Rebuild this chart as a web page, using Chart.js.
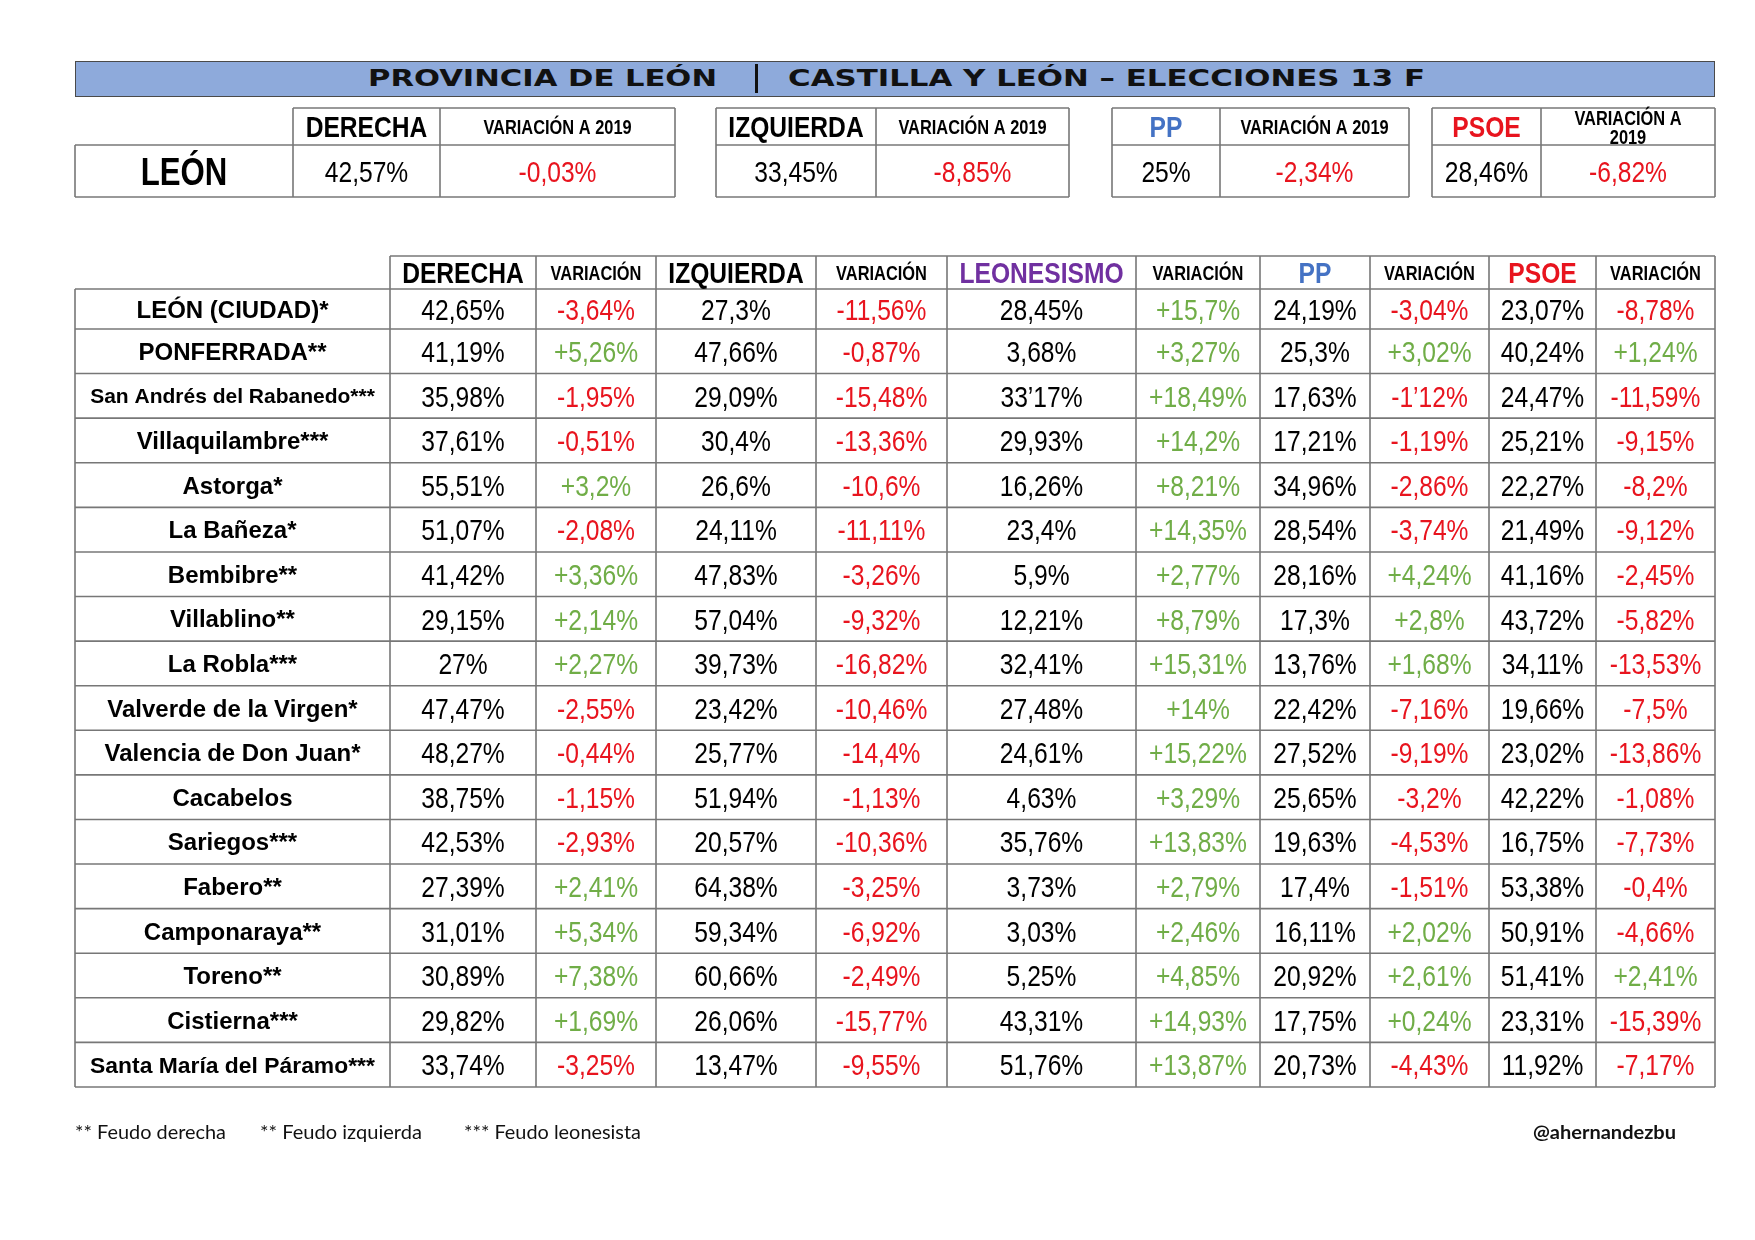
<!DOCTYPE html>
<html lang="es">
<head>
<meta charset="utf-8">
<title>Provincia de León – Castilla y León, Elecciones 13 F</title>
<script src="https://cdn.jsdelivr.net/npm/chart.js@4.4.1/dist/chart.umd.min.js"></script>
<style>
  html, body { margin: 0; padding: 0; background: #fff; }
  body { width: 1755px; height: 1240px; position: relative; overflow: hidden; }
  canvas { position: absolute; left: 0; top: 0; }
  .titulo {
    position: absolute; left: 75px; top: 61px; width: 1640px; height: 36px;
    box-sizing: border-box; background: #8eaadb; border: 1.5px solid #4a4a4a; z-index: 3;
  }
  .titulo span, .nota {
    position: absolute; white-space: nowrap; transform-origin: left center; color: #111;
  }
  .titulo span { top: 0; line-height: 33px; font-family: "DejaVu Sans", sans-serif; font-weight: bold; font-size: 23px; }
  .titulo .barra { left: 679px; top: 2px; width: 3px; height: 29px; background: #111; }
  .nota { font-family: Lato, "Open Sans", sans-serif; font-size: 19px; line-height: 24px; top: 1120px; z-index: 3; }
</style>
</head>
<body>
<div class="titulo">
  <span data-w="349" style="left:292px">PROVINCIA DE LEÓN</span>
  <span class="barra"></span>
  <span data-w="637" style="left:712px">CASTILLA Y LEÓN – ELECCIONES 13 F</span>
</div>
<canvas id="tabla" width="1755" height="1240"></canvas>
<canvas id="resumen" width="1755" height="240"></canvas>
<span class="nota" data-w="151" style="left:75px">** Feudo derecha</span>
<span class="nota" data-w="162" style="left:260px">** Feudo izquierda</span>
<span class="nota" data-w="177" style="left:464px">*** Feudo leonesista</span>
<span class="nota" data-w="143" style="left:1533px;font-weight:bold">@ahernandezbu</span>

<script>
// datos provincia (resumen)
const bloquesResumen = ['DERECHA', 'IZQUIERDA', 'PP', 'PSOE'];
const resumenVoto = [42.57, 33.45, 25, 28.46];
const resumenVariacion = [-0.03, -8.85, -2.34, -6.82];

// datos por municipio
const municipios = ['LEÓN (CIUDAD)*', 'PONFERRADA**', 'San Andrés del Rabanedo***', 'Villaquilambre***',
  'Astorga*', 'La Bañeza*', 'Bembibre**', 'Villablino**', 'La Robla***', 'Valverde de la Virgen*',
  'Valencia de Don Juan*', 'Cacabelos', 'Sariegos***', 'Fabero**', 'Camponaraya**', 'Toreno**',
  'Cistierna***', 'Santa María del Páramo***'];
const cabeceras = ['DERECHA', 'VARIACIÓN', 'IZQUIERDA', 'VARIACIÓN', 'LEONESISMO', 'VARIACIÓN', 'PP', 'VARIACIÓN', 'PSOE', 'VARIACIÓN'];

const derecha = [42.65, 41.19, 35.98, 37.61, 55.51, 51.07, 41.42, 29.15, 27, 47.47, 48.27, 38.75, 42.53, 27.39, 31.01, 30.89, 29.82, 33.74];
const varDerecha = [-3.64, 5.26, -1.95, -0.51, 3.2, -2.08, 3.36, 2.14, 2.27, -2.55, -0.44, -1.15, -2.93, 2.41, 5.34, 7.38, 1.69, -3.25];
const izquierda = [27.3, 47.66, 29.09, 30.4, 26.6, 24.11, 47.83, 57.04, 39.73, 23.42, 25.77, 51.94, 20.57, 64.38, 59.34, 60.66, 26.06, 13.47];
const varIzquierda = [-11.56, -0.87, -15.48, -13.36, -10.6, -11.11, -3.26, -9.32, -16.82, -10.46, -14.4, -1.13, -10.36, -3.25, -6.92, -2.49, -15.77, -9.55];
const leonesismo = [28.45, 3.68, 33.17, 29.93, 16.26, 23.4, 5.9, 12.21, 32.41, 27.48, 24.61, 4.63, 35.76, 3.73, 3.03, 5.25, 43.31, 51.76];
const varLeonesismo = [15.7, 3.27, 18.49, 14.2, 8.21, 14.35, 2.77, 8.79, 15.31, 14, 15.22, 3.29, 13.83, 2.79, 2.46, 4.85, 14.93, 13.87];
const pp = [24.19, 25.3, 17.63, 17.21, 34.96, 28.54, 28.16, 17.3, 13.76, 22.42, 27.52, 25.65, 19.63, 17.4, 16.11, 20.92, 17.75, 20.73];
const varPP = [-3.04, 3.02, -1.12, -1.19, -2.86, -3.74, 4.24, 2.8, 1.68, -7.16, -9.19, -3.2, -4.53, -1.51, 2.02, 2.61, 0.24, -4.43];
const psoe = [23.07, 40.24, 24.47, 25.21, 22.27, 21.49, 41.16, 43.72, 34.11, 19.66, 23.02, 42.22, 16.75, 53.38, 50.91, 51.41, 23.31, 11.92];
const varPSOE = [-8.78, 1.24, -11.59, -9.15, -8.2, -9.12, -2.45, -5.82, -13.53, -7.5, -13.86, -1.08, -7.73, -0.4, -4.66, 2.41, -15.39, -7.17];

// en el original dos celdas llevan apóstrofo en vez de coma: [fila, serie]
const celdasApostrofe = [[2, 4], [2, 7]];

const series = [derecha, varDerecha, izquierda, varIzquierda, leonesismo, varLeonesismo, pp, varPP, psoe, varPSOE];

// colores y maqueta
const rojo = '#e8141e', verde = '#70ad47', morado = '#7030a0', azul = '#4472c4', colorBorde = '#777';
const colorCabecera = { LEONESISMO: morado, PP: azul, PSOE: rojo };
const fuente = '"Liberation Sans", Arial, sans-serif';

const anchosColumna = [315, 146, 120, 160, 131, 189, 124, 110, 119, 107, 119];
const altosFila = [33, 40].concat(municipios.slice(1).map(() => 44.6));

function acumular(arr) {
  const out = [0];
  arr.forEach(v => out.push(out[out.length - 1] + v));
  return out;
}
const bordesX = acumular(anchosColumna);
const bordesY = acumular(altosFila);
const centro = (b, i) => (b[i] + b[i + 1]) / 2;

function formato(v, conSigno, apostrofe) {
  let s = String(Math.abs(v)).replace('.', apostrofe ? '’' : ',');
  if (conSigno) s = (v > 0 ? '+' : '-') + s;
  else if (v < 0) s = '-' + s;
  return s + '%';
}

function linea(ctx, x1, y1, x2, y2) {
  ctx.beginPath();
  ctx.moveTo(x1, y1);
  ctx.lineTo(x2, y2);
  ctx.stroke();
}

// texto centrado; "estrecho" imita Arial Narrow
function texto(ctx, t, cx, cy, size, bold, color, estrecho, maxW) {
  ctx.save();
  ctx.font = (bold ? 'bold ' : '') + size + 'px ' + fuente;
  if (maxW) {
    const w = ctx.measureText(t).width * estrecho;
    if (w > maxW) {
      size = size * maxW / w;
      ctx.font = (bold ? 'bold ' : '') + size + 'px ' + fuente;
    }
  }
  ctx.fillStyle = color;
  ctx.textAlign = 'center';
  ctx.textBaseline = 'alphabetic';
  ctx.translate(cx, cy + size * 0.716 / 2);
  ctx.scale(estrecho, 1);
  ctx.fillText(t, 0, 0);
  ctx.restore();
}

const tablaPlugin = {
  id: 'tablaMunicipios',
  afterDatasetsDraw(chart) {
    const { ctx, scales: { x, y } } = chart;
    const px = v => x.getPixelForValue(v);
    const py = v => y.getPixelForValue(v);
    const ultimo = bordesY[bordesY.length - 1];

    ctx.save();
    ctx.strokeStyle = colorBorde;
    ctx.lineWidth = 1.6;
    bordesY.forEach((v, i) => linea(ctx, px(i === 0 ? bordesX[1] : 0), py(v), px(bordesX[bordesX.length - 1]), py(v)));
    bordesX.forEach((v, j) => linea(ctx, px(v), py(j === 0 ? bordesY[1] : 0), px(v), py(ultimo)));
    ctx.restore();

    // cabeceras
    cabeceras.forEach((t, j) => {
      const grande = t !== 'VARIACIÓN';
      texto(ctx, t, px(centro(bordesX, j + 1)), py(centro(bordesY, 0)), grande ? 30 : 20, true,
        colorCabecera[t] || '#000', 0.82);
    });

    // municipios
    municipios.forEach((m, i) => {
      texto(ctx, m, px(centro(bordesX, 0)), py(centro(bordesY, i + 1)), 24, true, '#000', 1, anchosColumna[0] - 30);
    });

    // valores: posición de cada punto calculada por Chart.js
    chart.data.datasets.forEach((ds, k) => {
      const meta = chart.getDatasetMeta(k);
      const esVariacion = k % 2 === 1;
      meta.data.forEach((el, i) => {
        const v = series[k][i];
        const apos = celdasApostrofe.some(c => c[0] === i && c[1] === k);
        const color = esVariacion ? (v > 0 ? verde : rojo) : '#000';
        texto(ctx, formato(v, esVariacion, apos), el.x, el.y, 30, false, color, 0.82);
      });
    });
  }
};

new Chart(document.getElementById('tabla'), {
  type: 'scatter',
  data: {
    datasets: series.map((s, k) => ({
      label: cabeceras[k],
      data: s.map((v, i) => ({ x: centro(bordesX, k + 1), y: centro(bordesY, i + 1) })),
      pointRadius: 0
    }))
  },
  options: {
    responsive: false,
    animation: false,
    layout: { padding: { left: 75, top: 256, right: 40, bottom: 153 } },
    scales: {
      x: { type: 'linear', display: false, min: 0, max: bordesX[bordesX.length - 1] },
      y: { type: 'linear', display: false, min: 0, max: bordesY[bordesY.length - 1], reverse: true }
    },
    plugins: { legend: { display: false }, tooltip: { enabled: false } }
  },
  plugins: [tablaPlugin]
});

// resumen provincial
const bordesBloque = [[218, 365, 600], [641, 801, 994], [1037, 1145, 1334], [1357, 1466, 1640]];
const bordesResumenY = [0, 37, 89];

const resumenPlugin = {
  id: 'resumenProvincia',
  afterDatasetsDraw(chart) {
    const { ctx, scales: { x, y } } = chart;
    const px = v => x.getPixelForValue(v);
    const py = v => y.getPixelForValue(v);

    ctx.save();
    ctx.strokeStyle = colorBorde;
    ctx.lineWidth = 1.6;
    bordesBloque.forEach(b => {
      bordesResumenY.forEach(v => linea(ctx, px(b[0]), py(v), px(b[2]), py(v)));
      b.forEach(v => linea(ctx, px(v), py(0), px(v), py(89)));
    });
    // celda LEÓN
    linea(ctx, px(0), py(37), px(218), py(37));
    linea(ctx, px(0), py(89), px(218), py(89));
    linea(ctx, px(0), py(37), px(0), py(89));
    ctx.restore();

    texto(ctx, 'LEÓN', px(109), py(63), 38, true, '#000', 0.82);

    bloquesResumen.forEach((t, j) => {
      const b = bordesBloque[j];
      texto(ctx, t, px((b[0] + b[1]) / 2), py(18.5), 30, true, colorCabecera[t] || '#000', 0.82);
      const cab = 'VARIACIÓN A 2019';
      ctx.font = 'bold 20px ' + fuente;
      const cx = px((b[1] + b[2]) / 2);
      if (ctx.measureText(cab).width * 0.82 > (b[2] - b[1]) - 30) {
        texto(ctx, 'VARIACIÓN A', cx, py(18.5) - 9, 20, true, '#000', 0.82);
        texto(ctx, '2019', cx, py(18.5) + 10, 20, true, '#000', 0.82);
      } else {
        texto(ctx, cab, cx, py(18.5), 20, true, '#000', 0.82);
      }
    });

    const voto = chart.getDatasetMeta(0).data;
    const vari = chart.getDatasetMeta(1).data;
    voto.forEach((el, j) => texto(ctx, formato(resumenVoto[j], false), el.x, el.y, 30, false, '#000', 0.82));
    vari.forEach((el, j) => {
      const v = resumenVariacion[j];
      texto(ctx, formato(v, true), el.x, el.y, 30, false, v > 0 ? verde : rojo, 0.82);
    });
  }
};

new Chart(document.getElementById('resumen'), {
  type: 'scatter',
  data: {
    datasets: [
      { label: 'Voto', data: resumenVoto.map((v, j) => ({ x: (bordesBloque[j][0] + bordesBloque[j][1]) / 2, y: 63 })), pointRadius: 0 },
      { label: 'Variación a 2019', data: resumenVariacion.map((v, j) => ({ x: (bordesBloque[j][1] + bordesBloque[j][2]) / 2, y: 63 })), pointRadius: 0 }
    ]
  },
  options: {
    responsive: false,
    animation: false,
    layout: { padding: { left: 75, top: 108, right: 40, bottom: 43 } },
    scales: {
      x: { type: 'linear', display: false, min: 0, max: 1640 },
      y: { type: 'linear', display: false, min: 0, max: 89, reverse: true }
    },
    plugins: { legend: { display: false }, tooltip: { enabled: false } }
  },
  plugins: [resumenPlugin]
});

// ajustar ancho de los textos HTML al del original
function ajustar() {
  document.querySelectorAll('[data-w]').forEach(el => {
    el.style.transform = '';
    const w = el.getBoundingClientRect().width;
    el.style.transform = 'scaleX(' + (Number(el.dataset.w) / w) + ')';
  });
}
ajustar();
if (document.fonts && document.fonts.ready) document.fonts.ready.then(ajustar);
</script>
</body>
</html>
